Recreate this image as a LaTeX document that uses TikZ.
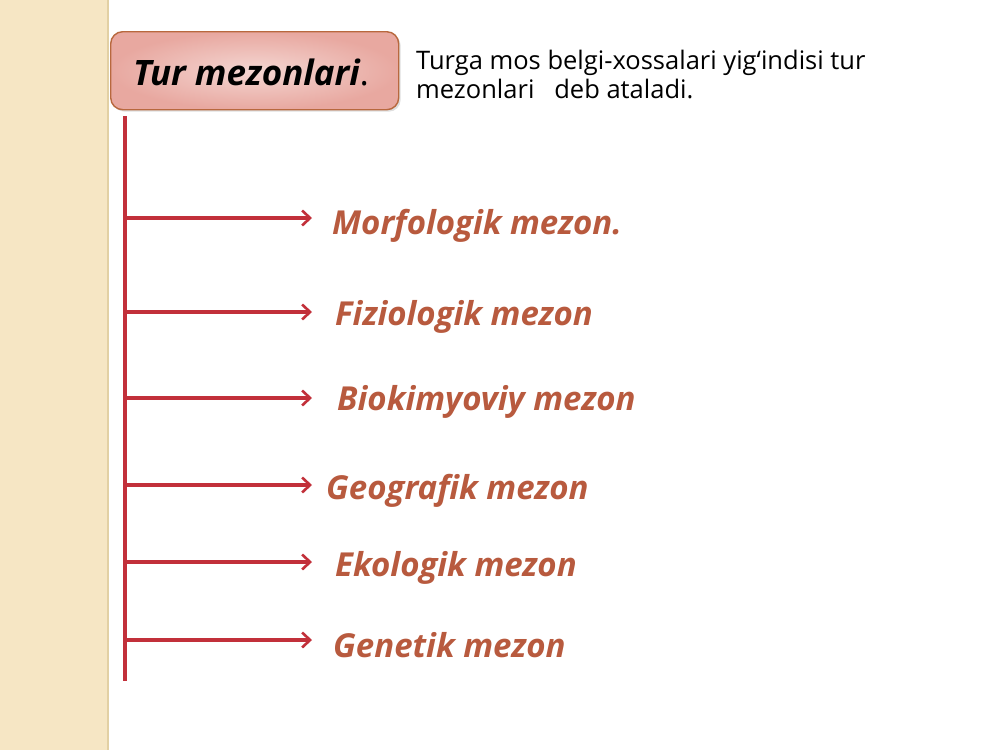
\documentclass[tikz,border=0pt]{standalone}
\usepackage{fontspec}
\setmainfont{Open Sans}
\usetikzlibrary{arrows.meta,shadows}
\definecolor{strip}{HTML}{F6E6C4}
\definecolor{stripline}{HTML}{E2D0A4}
\definecolor{boxedge}{HTML}{B8683E}
\definecolor{boxin}{HTML}{F4D6D2}
\definecolor{boxout}{HTML}{E8A8A0}
\definecolor{linered}{HTML}{C2303A}
\definecolor{labelc}{HTML}{B85A3E}
\tikzset{
  mezon/.style={anchor=west, inner sep=0pt, text=labelc, font=\fontsize{33}{40}\selectfont\bfseries\itshape},
  branch/.style={draw=linered, line width=3.2pt, -{Straight Barb[length=8pt,width=15pt,line width=2.6pt]}, shorten >=20pt},
  titlebox/.style={draw=boxedge, line width=1.4pt, rounded corners=12pt, inner color=boxin, outer color=boxout,
     minimum width=288pt, minimum height=78pt, anchor=north west, drop shadow={opacity=0.25, shadow xshift=2pt, shadow yshift=-2pt}}
}
\begin{document}
\begin{tikzpicture}[x=1pt,y=-1pt]
\useasboundingbox (0,0) rectangle (1000,750);
\fill[white] (0,0) rectangle (1000,750);
\fill[strip] (0,0) rectangle (108,750);
\draw[stripline, line width=2pt] (108,0) -- (108,750);
% title
\node[titlebox] (title) at (110,31) {};
\node[anchor=west, inner sep=0pt, font=\fontsize{35}{40}\selectfont] (titletext) at (133,72) {\bfseries\itshape Tur mezonlari\mdseries\upshape.};
\node[anchor=north west, align=left, inner sep=0pt, font=\fontsize{25.5}{29}\selectfont] (desc) at (416,50)
  {Turga mos belgi-xossalari yig‘indisi tur\\mezonlari\ \ \ deb ataladi.};
% vertical line
\coordinate (vtop) at (125,116);
\coordinate (vbot) at (125,681);
\draw[linered, line width=3.6pt] (vtop) -- (vbot);
% labels
\node[mezon] (m1) at (332,226) {Morfologik mezon.};
\node[mezon] (m2) at (335,317) {Fiziologik mezon};
\node[mezon] (m3) at (337,402) {Biokimyoviy mezon};
\node[mezon] (m4) at (326,491) {Geografik mezon};
\node[mezon] (m5) at (335,568) {Ekologik mezon};
\node[mezon] (m6) at (333,645) {Genetik mezon};
% branch starts
\coordinate (s1) at (126,218);
\coordinate (s2) at (126,312);
\coordinate (s3) at (126,398);
\coordinate (s4) at (126,485);
\coordinate (s5) at (126,562);
\coordinate (s6) at (126,640);
\draw[branch] (s1) -- (s1 -| m1.west);
\draw[branch] (s2) -- ([xshift=-3pt]s2 -| m2.west);
\draw[branch] (s3) -- ([xshift=-5pt]s3 -| m3.west);
\draw[branch] (s4) -- ([xshift=6pt]s4 -| m4.west);
\draw[branch] (s5) -- ([xshift=-3pt]s5 -| m5.west);
\draw[branch] (s6) -- ([xshift=-1pt]s6 -| m6.west);
\end{tikzpicture}
\end{document}
